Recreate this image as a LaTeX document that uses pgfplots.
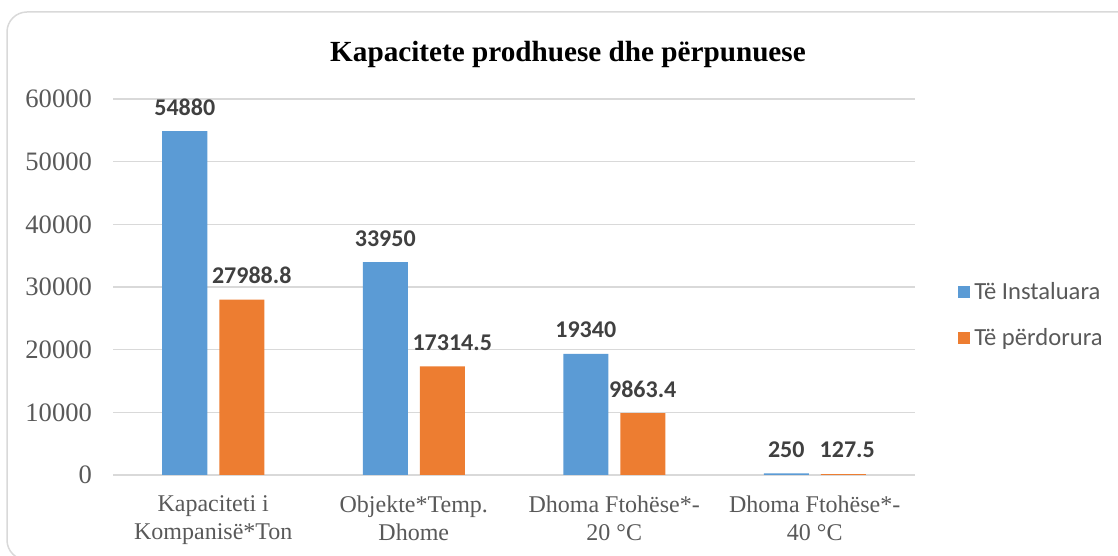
\documentclass[border=0pt]{standalone}
\usepackage{fontspec}
\setmainfont{Liberation Serif}
\newfontfamily\carlito{Carlito}
\usepackage{pgfplots}
\pgfplotsset{compat=1.18}
\definecolor{cblue}{HTML}{5B9BD5}
\definecolor{corange}{HTML}{ED7D31}
\definecolor{gridgray}{HTML}{D9D9D9}
\definecolor{txtgray}{HTML}{595959}
\definecolor{lblgray}{HTML}{404040}

\begin{document}
\begin{tikzpicture}
\path[use as bounding box] (0,0) rectangle (559pt,278pt);
\draw[gridgray, line width=0.75pt, rounded corners=10pt] (3.5pt,-2pt) rectangle (575pt,272pt);
\node[anchor=base, font=\fontsize{14.6}{17}\selectfont\bfseries] at (284pt,247pt) {Kapacitete prodhuese dhe përpunuese};
\begin{axis}[
    at={(56.5pt,40.5pt)}, anchor=south west,
    scale only axis, width=401pt, height=188pt,
    ybar=6pt, bar width=22.5pt,
    xmin=-0.5, xmax=3.5, ymin=0, ymax=60000,
    enlargelimits=false,
    xtick={0,1,2,3},
    xticklabels={{Kapaciteti i\\Kompanisë*Ton},{Objekte*Temp.\\Dhome},{Dhoma Ftohëse*-\\20 °C},{Dhoma Ftohëse*-\\40 °C}},
    xticklabel style={align=center, font=\fontsize{12}{14}\selectfont, text=txtgray, yshift=-7pt},
    ytick={0,10000,20000,30000,40000,50000,60000},
    yticklabel style={text=txtgray, font=\fontsize{13.3}{15}\selectfont, xshift=-7pt},
    /pgf/number format/1000 sep={},
    /pgf/number format/assume math mode=true,
    scaled y ticks=false,
    ymajorgrids,
    major grid style={gridgray, line width=0.75pt},
    axis line style={draw=none},
    major tick length=0pt,
    tick style={draw=none},
    nodes near coords,
    point meta=explicit symbolic,
    visualization depends on={value \thisrow{dx} \as \dx},
    nodes near coords style={font=\carlito\bfseries\fontsize{12}{14}\selectfont, text=lblgray, anchor=center, yshift=12pt, xshift=\dx pt},
    legend style={at={(1.0536,0.4255)}, anchor=west, draw=none, fill=none,
        font=\carlito\fontsize{12.3}{14}\selectfont, text=txtgray,
        row sep=9pt, inner sep=0pt, nodes={inner sep=2pt}},
    legend cell align=left,
]
\addplot[fill=cblue, draw=none, legend image code/.code={\fill[cblue] (0pt,-3pt) rectangle (6pt,3pt);}]
    table[x=x, y=y, meta=lab] {
x y lab dx
0 54880 54880 0
1 33950 33950 0
2 19340 19340 0
3 250 250 0
};
\addlegendentry{Të Instaluara}
\addplot[fill=corange, draw=none, legend image code/.code={\fill[corange] (0pt,-3pt) rectangle (6pt,3pt);}]
    table[x=x, y=y, meta=lab] {
x y lab dx
0 27988.8 27988.8 5
1 17314.5 17314.5 5
2 9863.4 9863.4 0
3 127.5 127.5 2
};
\addlegendentry{Të përdorura}
\end{axis}
\end{tikzpicture}
\end{document}
